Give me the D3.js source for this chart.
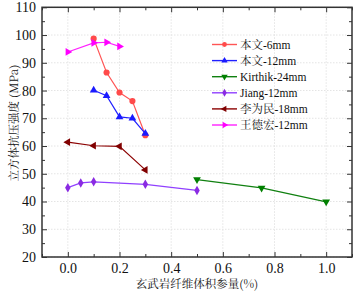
<!DOCTYPE html>
<html><head><meta charset="utf-8">
<script src="https://cdn.jsdelivr.net/npm/d3@7"></script>
<style>body{margin:0;background:#fff}svg{display:block}</style>
</head><body><svg id="c" width="356" height="293"></svg>
<script>
const seriesNames = ["本文-6mm","本文-12mm","Kirthik-24mm","Jiang-12mm","李为民-18mm","王德宏-12mm"];
const xWen6 = [0.1,0.15,0.2,0.25,0.3];
const yWen6 = [98.7,86.5,79.3,76.2,63.9];
const xWen12 = [0.1,0.15,0.2,0.25,0.3];
const yWen12 = [80.1,78.1,70.5,70.0,64.5];
const xKirthik = [0.5,0.75,1.0];
const yKirthik = [47.9,44.9,39.9];
const xJiang = [0,0.05,0.1,0.3,0.5];
const yJiang = [45.0,46.7,47.1,46.2,44.0];
const xLi = [0,0.1,0.2,0.3];
const yLi = [61.4,60.1,59.9,51.4];
const xWang = [0,0.1,0.15,0.2];
const yWang = [93.9,97.2,97.4,95.9];
const xTicks = [0.0,0.2,0.4,0.6,0.8,1.0];
const yTicks = [20,30,40,50,60,70,80,90,100,110];
const xLabel = "玄武岩纤维体积参量(%)";
const yLabel = "立方体抗压强度 (MPa)";

const colors = ["#ff4a4a","#1a1aff","#008000","#8a2be2","#800000","#ff00ff"];
const lineColors = ["#ff5555","#2020ff","#108010","#9040ff","#8b0000","#ff22ff"];
const symbols = [d3.symbolCircle,d3.symbolTriangle,"tridown",d3.symbolDiamond,"trileft","triright"];
const series = [[xWen6,yWen6],[xWen12,yWen12],[xKirthik,yKirthik],[xJiang,yJiang],[xLi,yLi],[xWang,yWang]];

const svg = d3.select("#c");
const L=42,R=352,T=7.3,B=257;
const x = d3.scaleLinear().domain([-0.1,1.1]).range([L,R]);
const y = d3.scaleLinear().domain([20,110]).range([B,T]);
const serif = "'Liberation Serif','Times New Roman',serif";
const cjk = "'Noto Serif CJK SC','Noto Sans CJK SC',serif";

// grid
const g = svg.append("g");
xTicks.forEach(t=>g.append("line").attr("x1",x(t)).attr("x2",x(t)).attr("y1",T).attr("y2",B).attr("stroke","#e4e4e4").attr("stroke-dasharray","1.5,1.5"));
yTicks.forEach(t=>g.append("line").attr("x1",L).attr("x2",R).attr("y1",y(t)).attr("y2",y(t)).attr("stroke","#e4e4e4").attr("stroke-dasharray","1.5,1.5"));

// axes
const xMinor = d3.range(-0.1,1.1001,0.1).map(v=>+v.toFixed(2));
const yMinor = d3.range(20,110.1,5);
function axisStyle(sel){sel.select(".domain").remove();sel.selectAll("line").attr("stroke","#333").attr("stroke-width",1);}
const ax = [
  [d3.axisBottom(x).tickValues(xTicks).tickFormat(d3.format(".1f")).tickSizeInner(-5).tickSizeOuter(0).tickPadding(6), `translate(0,${B})`],
  [d3.axisTop(x).tickValues(xTicks).tickSizeInner(-5).tickSizeOuter(0).tickFormat(""), `translate(0,${T})`],
  [d3.axisLeft(y).tickValues(yTicks).tickFormat(d3.format("d")).tickSizeInner(-5).tickSizeOuter(0).tickPadding(6), `translate(${L},0)`],
  [d3.axisRight(y).tickValues(yTicks).tickSizeInner(-5).tickSizeOuter(0).tickFormat(""), `translate(${R},0)`],
];
ax.forEach(([a,tr])=>{
  const s=svg.append("g").attr("transform",tr).call(a);
  axisStyle(s);
  s.selectAll("text").attr("font-family",serif).attr("font-size",14).attr("fill","#111");
});
// minor ticks
[[d3.axisBottom(x),B],[d3.axisTop(x),T]].forEach(([a,p])=>{
  const s=svg.append("g").attr("transform",`translate(0,${p})`).call(a.tickValues(xMinor.filter(v=>!xTicks.some(t=>Math.abs(t-v)<1e-6))).tickSizeInner(-3).tickSizeOuter(0).tickFormat(""));
  axisStyle(s);
});
[[d3.axisLeft(y),L],[d3.axisRight(y),R]].forEach(([a,p])=>{
  const s=svg.append("g").attr("transform",`translate(${p},0)`).call(a.tickValues(yMinor.filter(v=>v%10!==0)).tickSizeInner(-3).tickSizeOuter(0).tickFormat(""));
  axisStyle(s);
});
// frame
svg.append("rect").attr("x",L).attr("y",T).attr("width",R-L).attr("height",B-T).attr("fill","none").attr("stroke","#333").attr("stroke-width",1.5);

function marker(sel,i,size){
  const s=symbols[i];
  let type=s,rot=0;
  if(s==="tridown"){type=d3.symbolTriangle;rot=180;}
  if(s==="trileft"){type=d3.symbolTriangle;rot=-90;}
  if(s==="triright"){type=d3.symbolTriangle;rot=90;}
  return sel.append("path").attr("d",d3.symbol(type,size)).attr("fill",colors[i]).attr("data-rot",rot);
}

// series
const line = d3.line().x(d=>x(d[0])).y(d=>y(d[1]));
series.forEach(([xs,ys],i)=>{
  const pts = xs.map((v,k)=>[v,ys[k]]);
  svg.append("path").datum(pts).attr("d",line).attr("fill","none").attr("stroke",lineColors[i]).attr("stroke-width",1.2);
  pts.forEach(p=>{
    const m=marker(svg,i,i===0?30:26);
    m.attr("transform",`translate(${x(p[0])},${y(p[1])}) rotate(${m.attr("data-rot")})`);
  });
});

// legend
const lg = svg.append("g");
seriesNames.forEach((n,i)=>{
  const yy = 44.5 + i*16.1;
  lg.append("line").attr("x1",212).attr("x2",237).attr("y1",yy).attr("y2",yy).attr("stroke",lineColors[i]).attr("stroke-width",1.4);
  const m=marker(lg,i,18);
  m.attr("transform",`translate(224.5,${yy}) rotate(${m.attr("data-rot")})`);
  lg.append("text").attr("x",240).attr("y",yy+4).attr("font-size",11.5).attr("fill","#111")
    .attr("font-family",serif).text(n);
});
lg.selectAll("text").each(function(){
  const t=d3.select(this); const s=t.text(); t.text("");
  const m=s.match(/^([^\x00-\x7f]*)(.*)$/);
  if(m[1]) t.append("tspan").attr("font-family",cjk).attr("font-size",11.5).text(m[1]);
  t.append("tspan").text(m[2]);
});

// axis labels
svg.append("text").attr("x",(L+R)/2).attr("y",288).attr("text-anchor","middle").attr("font-size",11.5).attr("fill","#111")
  .attr("font-family",cjk).text(xLabel);
svg.append("text").attr("transform",`translate(18,123) rotate(-90)`).attr("text-anchor","middle").attr("font-size",11.5).attr("fill","#111")
  .attr("font-family",cjk).text(yLabel);
</script></body></html>
